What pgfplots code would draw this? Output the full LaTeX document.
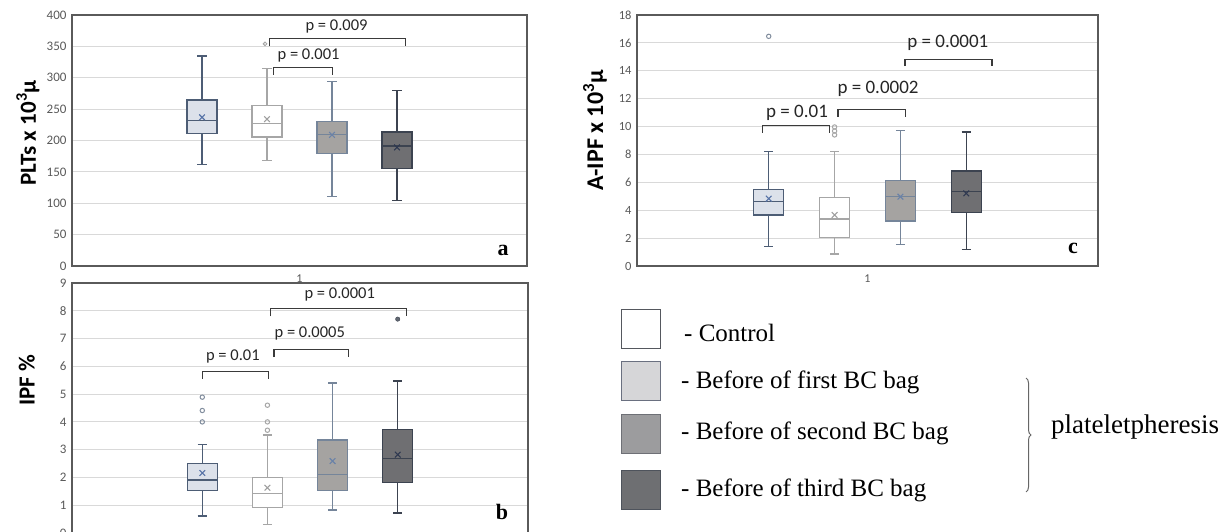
\documentclass[border=0pt]{standalone}
\usepackage{pgfplots}
\pgfplotsset{compat=1.18}
\usepgfplotslibrary{statistics}
\usetikzlibrary{decorations.pathreplacing}
\usepackage{fontspec}
\setmainfont{Liberation Serif}
\newfontfamily\carlito{Carlito}

\definecolor{framegray}{HTML}{5A5A5A}
\definecolor{gridgray}{HTML}{D9D9D9}
\definecolor{tickgray}{HTML}{595959}
\definecolor{brk}{HTML}{3A3A3A}
% box colours: first, second, third, fourth box
\definecolor{cAf}{HTML}{DCE1EA}
\definecolor{cAd}{HTML}{4D5D75}
\definecolor{cAm}{HTML}{5672A6}
\definecolor{cBf}{HTML}{FFFFFF}
\definecolor{cBd}{HTML}{A6A6A6}
\definecolor{cBm}{HTML}{9E9E9E}
\definecolor{cCf}{HTML}{A5A3A1}
\definecolor{cCd}{HTML}{75859A}
\definecolor{cCm}{HTML}{6A82A8}
\definecolor{cDf}{HTML}{6F6F72}
\definecolor{cDd}{HTML}{3C4350}
\definecolor{cDm}{HTML}{2E3850}
% legend swatches
\definecolor{lg1d}{HTML}{55585E}
\definecolor{lg2f}{HTML}{D6D6D8}
\definecolor{lg2d}{HTML}{6A7080}
\definecolor{lg3f}{HTML}{9C9C9E}
\definecolor{lg3d}{HTML}{6E7076}
\definecolor{lg4f}{HTML}{6E6F72}
\definecolor{lg4d}{HTML}{4E535C}

\tikzset{
  bracket/.style={draw=brk, line width=1.3pt},
  ptext/.style={font=\carlito\fontsize{16.5}{18}\selectfont, text=black!85},
  ptextc/.style={font=\carlito\fontsize{19}{21}\selectfont, text=black!85},
}

% boxes sit at x = 10, 20, 30, 40 (category "1" is centred at 25)
\pgfplotsset{
  panel/.style={
    scale only axis, anchor=south west, clip=false,
    boxplot/draw direction=y,
    xmin=-10, xmax=60,
    axis line style={draw=framegray, line width=1.3pt},
    ymajorgrids, grid style={draw=gridgray, line width=1pt},
    major tick length=0pt,
    xtick={25}, xticklabels={1},
    tick label style={font=\carlito\fontsize{13}{15}\selectfont, text=tickgray},
    yticklabel style={xshift=-2pt},
    xticklabel style={font=\carlito\fontsize{12}{14}\selectfont, yshift=-5pt},
    /pgf/number format/assume math mode=true,
    every axis y label/.style={rotate=90, anchor=center,
      font=\carlito\bfseries\fontsize{23}{25}\selectfont},
  },
  bx/.style n args={2}{draw=#1, line width=1.2pt,
    boxplot/every box/.style={fill=#2},
    boxplot/box extend=4.6, boxplot/whisker extend=1.4},
  meanmark/.style={only marks, mark=x, mark size=4pt, mark options={draw=#1, line width=1.1pt}},
  outl/.style={only marks, mark=o, mark size=2.2pt, mark options={draw=#1, line width=1pt}},
}

\begin{document}
\begin{tikzpicture}
\path[use as bounding box] (0pt,0pt) rectangle (1225pt,532pt);

% ---------- panel a: PLTs ----------
\begin{axis}[panel, at={(72pt,266pt)}, width=455pt, height=251pt,
  ymin=0, ymax=400, ytick={0,50,...,400},
  ylabel={PLTs x 10\textsuperscript{3}μ},
  ylabel style={at={(axis description cs:-0.097,0.53)}}]
\addplot[bx={cAd}{cAf}, boxplot prepared={draw position=10, lower whisker=162,
  lower quartile=211.4, median=231.6, upper quartile=264.5, upper whisker=334.7}] coordinates {};
\addplot[bx={cBd}{cBf}, boxplot prepared={draw position=20, lower whisker=168.4,
  lower quartile=205.6, median=227.4, upper quartile=256, upper whisker=315}] coordinates {};
\addplot[bx={cCd}{cCf}, boxplot prepared={draw position=30, lower whisker=111,
  lower quartile=179.5, median=209.3, upper quartile=230, upper whisker=294}] coordinates {};
\addplot[bx={cDd}{cDf}, boxplot prepared={draw position=40, lower whisker=104,
  lower quartile=155, median=191.2, upper quartile=213.5, upper whisker=279.4}] coordinates {};
\addplot[meanmark=cAm] coordinates {(10,237)};
\addplot[meanmark=cBm] coordinates {(20,234)};
\addplot[meanmark=cCm] coordinates {(30,209)};
\addplot[meanmark=cDm] coordinates {(40,189)};
\addplot[outl=cBd, mark size=1.8pt] coordinates {(19.7,354)};
\draw[bracket] (axis cs:20.4,350) -- (axis cs:20.4,362) -- (axis cs:41.3,362) -- (axis cs:41.3,350);
\node[ptext] at (axis cs:30.7,381) {p = 0.009};
\draw[bracket] (axis cs:21.0,305) -- (axis cs:21.0,316) -- (axis cs:30.1,316) -- (axis cs:30.1,305);
\node[ptext] at (axis cs:26.4,335) {p = 0.001};
\end{axis}

% ---------- panel b: IPF % ----------
\begin{axis}[panel, at={(72pt,-1pt)}, width=456pt, height=250pt,
  ymin=0, ymax=9, ytick={0,1,...,9}, xtick=\empty,
  ylabel={IPF \%},
  ylabel style={at={(axis description cs:-0.099,0.61)}}]
\addplot[bx={cAd}{cAf}, boxplot prepared={draw position=10, lower whisker=0.61,
  lower quartile=1.53, median=1.91, upper quartile=2.49, upper whisker=3.2}] coordinates {};
\addplot[bx={cBd}{cBf}, boxplot prepared={draw position=20, lower whisker=0.32,
  lower quartile=0.91, median=1.43, upper quartile=2.0, upper whisker=3.53}] coordinates {};
\addplot[bx={cCd}{cCf}, boxplot prepared={draw position=30, lower whisker=0.83,
  lower quartile=1.53, median=2.12, upper quartile=3.35, upper whisker=5.4}] coordinates {};
\addplot[bx={cDd}{cDf}, boxplot prepared={draw position=40, lower whisker=0.72,
  lower quartile=1.82, median=2.67, upper quartile=3.74, upper whisker=5.47}] coordinates {};
\addplot[meanmark=cAm] coordinates {(10,2.16)};
\addplot[meanmark=cBm] coordinates {(20,1.63)};
\addplot[meanmark=cCm] coordinates {(30,2.59)};
\addplot[meanmark=cDm] coordinates {(40,2.82)};
\addplot[outl=cAd!70] coordinates {(10,4.89) (10,4.41) (10,4.0)};
\addplot[outl=cBd] coordinates {(20,4.6) (20,4.0) (20,3.7)};
\addplot[only marks, mark=*, mark size=2.2pt, mark options={fill=cDd!80, draw=cDd}] coordinates {(40,7.7)};
\draw[bracket] (axis cs:20.5,7.8) -- (axis cs:20.5,8.08) -- (axis cs:41.4,8.08) -- (axis cs:41.4,7.8);
\node[ptext] at (axis cs:31.1,8.57) {p = 0.0001};
\draw[bracket] (axis cs:21.0,6.33) -- (axis cs:21.0,6.6) -- (axis cs:32.4,6.6) -- (axis cs:32.4,6.33);
\node[ptext] at (axis cs:26.5,7.17) {p = 0.0005};
\draw[bracket] (axis cs:10.0,5.55) -- (axis cs:10.0,5.82) -- (axis cs:20.2,5.82) -- (axis cs:20.2,5.55);
\node[ptext] at (axis cs:14.7,6.35) {p = 0.01};
\end{axis}

% ---------- panel c: A-IPF ----------
\begin{axis}[panel, at={(637pt,266pt)}, width=461pt, height=251pt,
  ymin=0, ymax=18, ytick={0,2,...,18},
  tick label style={font=\carlito\fontsize{12.5}{14}\selectfont},
  ylabel={A-IPF x 10\textsuperscript{3}μ},
  ylabel style={at={(axis description cs:-0.091,0.54)}, font=\carlito\bfseries\fontsize{24}{26}\selectfont}]
\addplot[bx={cAd}{cAf}, boxplot prepared={draw position=10, lower whisker=1.39,
  lower quartile=3.66, median=4.61, upper quartile=5.5, upper whisker=8.2}] coordinates {};
\addplot[bx={cBd}{cBf}, boxplot prepared={draw position=20, lower whisker=0.86,
  lower quartile=2.06, median=3.37, upper quartile=4.9, upper whisker=8.2}] coordinates {};
\addplot[bx={cCd}{cCf}, boxplot prepared={draw position=30, lower whisker=1.55,
  lower quartile=3.23, median=5.0, upper quartile=6.14, upper whisker=9.7}] coordinates {};
\addplot[bx={cDd}{cDf}, boxplot prepared={draw position=40, lower whisker=1.17,
  lower quartile=3.83, median=5.36, upper quartile=6.81, upper whisker=9.61}] coordinates {};
\addplot[meanmark=cAm] coordinates {(10,4.83)};
\addplot[meanmark=cBm] coordinates {(20,3.66)};
\addplot[meanmark=cCm] coordinates {(30,4.97)};
\addplot[meanmark=cDm] coordinates {(40,5.21)};
\addplot[outl=cAd!70] coordinates {(10,16.47)};
\addplot[outl=cBd] coordinates {(20,9.97) (20,9.68) (20,9.4)};
\draw[bracket] (axis cs:9.1,9.56) -- (axis cs:9.1,10.06) -- (axis cs:19.2,10.06) -- (axis cs:19.2,9.56);
\node[ptextc] at (axis cs:14.3,11.0) {p = 0.01};
\draw[bracket] (axis cs:20.5,10.7) -- (axis cs:20.5,11.24) -- (axis cs:30.8,11.24) -- (axis cs:30.8,10.7);
\node[ptextc] at (axis cs:26.6,12.67) {p = 0.0002};
\draw[bracket] (axis cs:30.7,14.34) -- (axis cs:30.7,14.8) -- (axis cs:43.9,14.8) -- (axis cs:43.9,14.34);
\node[ptextc] at (axis cs:37.2,16.0) {p = 0.0001};
\end{axis}

% panel letters
\node[font=\bfseries\fontsize{22}{24}\selectfont] at (503pt,282pt) {a};
\node[font=\bfseries\fontsize{22}{24}\selectfont] at (502pt,20pt) {b};
\node[font=\bfseries\fontsize{22}{24}\selectfont] at (1073pt,284pt) {c};

% legend
\draw[draw=lg1d, fill=white, line width=1pt] (621pt,183pt) rectangle (660pt,222pt);
\draw[draw=lg2d, fill=lg2f, line width=1pt] (621pt,131pt) rectangle (660pt,170pt);
\draw[draw=lg3d, fill=lg3f, line width=1pt] (621pt,78pt) rectangle (660pt,117pt);
\draw[draw=lg4d, fill=lg4f, line width=1pt] (621pt,22pt) rectangle (660pt,61pt);
\begin{scope}[every node/.style={anchor=west, font=\fontsize{25}{27}\selectfont, inner sep=0pt}]
\node at (684pt,199pt) {-\ Control};
\node at (681pt,150pt) {-\ Before of first BC bag};
\node at (681pt,99pt) {-\ Before of second BC bag};
\node at (681pt,42pt) {-\ Before of third BC bag};
\node[font=\fontsize{27}{29}\selectfont] at (1051pt,105pt) {plateletpheresis};
\end{scope}
\draw[decorate, decoration={brace, amplitude=5pt}, draw=black!60, line width=1pt]
  (1026pt,154pt) -- (1026pt,40pt);
\end{tikzpicture}
\end{document}
